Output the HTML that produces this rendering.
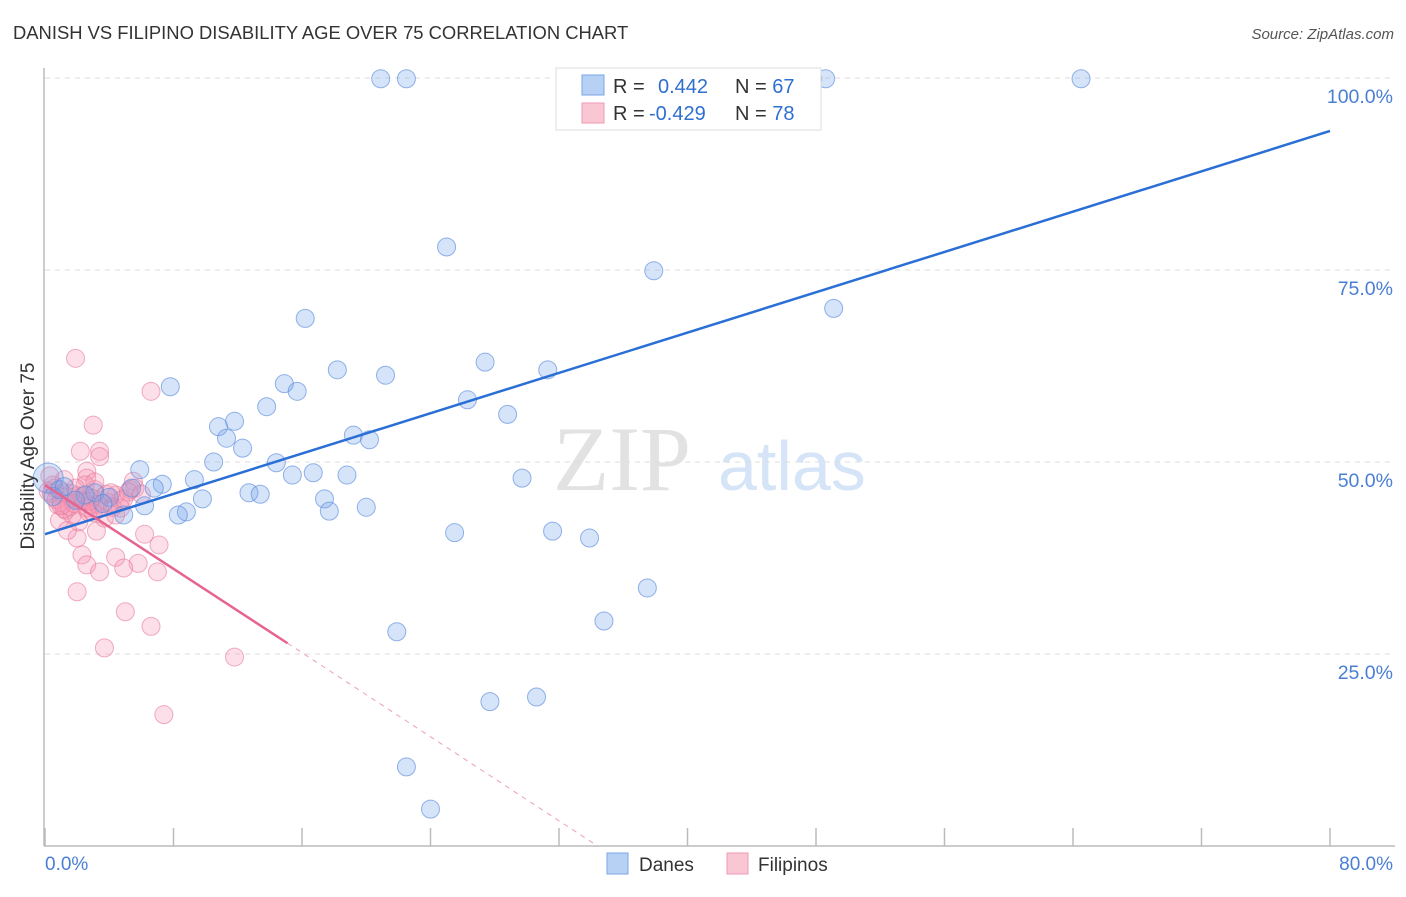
<!DOCTYPE html>
<html><head><meta charset="utf-8"><style>
body{margin:0;background:#fff;font-family:"Liberation Sans",sans-serif}
</style></head><body>
<svg id="chart" width="1406" height="892" xmlns="http://www.w3.org/2000/svg" font-family="Liberation Sans, sans-serif">
<text x="13" y="39" font-size="18.4" fill="#333">DANISH VS FILIPINO DISABILITY AGE OVER 75 CORRELATION CHART</text>
<text x="1394" y="39" font-size="15" fill="#555" text-anchor="end" font-style="italic">Source: ZipAtlas.com</text>
<text x="553" y="490" font-size="92" fill="#e2e2e2" font-family="Liberation Serif, serif">ZIP</text>
<text x="718" y="490" font-size="70" fill="#d6e4f7">atlas</text>
<g id="grid"></g>
<g id="axes"></g>
<g id="pts"></g>
<g id="lines"></g>
<text transform="translate(34,456) rotate(-90)" font-size="19" fill="#333" text-anchor="middle">Disability Age Over 75</text>
<text x="45" y="870" font-size="19" fill="#4a7fd4">0.0%</text>
<text x="1393" y="870" font-size="19" fill="#4a7fd4" text-anchor="end">80.0%</text>
<g>
<rect x="556" y="68" width="265" height="62" fill="#fff" stroke="#ddd"/>
<rect x="582" y="75" width="22" height="20" fill="#b7d1f5" stroke="#7aa6e6"/>
<rect x="582" y="103" width="22" height="20" fill="#f9c6d4" stroke="#ee9ab3"/>
<text x="613" y="93" font-size="20" fill="#333">R = <tspan fill="#2f6fd0" x="658">0.442</tspan><tspan x="735" fill="#333">N = </tspan><tspan fill="#2f6fd0">67</tspan></text>
<text x="613" y="120" font-size="20" fill="#333">R = <tspan fill="#2f6fd0" x="649">-0.429</tspan><tspan x="735" fill="#333">N = </tspan><tspan fill="#2f6fd0">78</tspan></text>
</g>
<g>
<rect x="607" y="853" width="21" height="21" fill="#b7d1f5" stroke="#7aa6e6"/>
<text x="639" y="871" font-size="19" fill="#333">Danes</text>
<rect x="727" y="853" width="21" height="21" fill="#f9c6d4" stroke="#ee9ab3"/>
<text x="758" y="871" font-size="19" fill="#333">Filipinos</text>
</g>
</svg>
<script>
const yTicks=[100,75,50,25];
const yTickLabels=["100.0%","75.0%","50.0%","25.0%"];
const xTicks=[0,10,20,30,40,50,60,70,80];
const danesX=[20.9,22.5,39.1,45.8,47.8,48.6,64.5,25.0,37.9,49.1,16.2,7.8,14.9,15.7,18.2,21.2,27.4,31.3,26.3,28.8,13.8,11.8,10.8,11.3,12.3,19.2,20.2,10.5,14.4,5.9,15.4,16.7,18.8,29.7,9.3,7.3,6.8,12.7,13.4,9.8,17.4,20.0,17.7,6.2,8.8,8.3,4.9,25.5,31.6,33.9,37.5,21.9,34.8,27.7,30.6,22.5,24.0,0.2,0.9,3.1,4.0,5.4,2.5,1.9,1.2,0.5,3.6];
const danesY=[99.9,99.9,99.9,99.9,99.9,99.9,99.9,78.0,74.9,70.0,68.7,59.8,60.2,59.2,62.0,61.3,63.0,62.0,58.1,56.2,57.2,55.3,54.6,53.1,51.8,53.5,52.9,50.0,49.9,49.0,48.3,48.6,48.3,47.9,47.7,47.1,46.6,46.0,45.8,45.2,45.2,44.1,43.6,44.3,43.5,43.1,43.1,40.8,41.0,40.1,33.6,27.9,29.3,18.8,19.4,10.3,4.8,47.9,46.4,46.0,45.4,46.6,45.7,45.0,46.8,45.5,44.6];
const filX=[1.9,6.6,3.0,2.2,3.4,3.4,2.6,2.6,5.5,3.2,2.0,6.2,7.1,2.3,4.4,2.6,5.8,3.4,4.9,7.0,2.0,5.0,6.6,3.7,11.8,7.4,0.3,0.6,1.1,1.6,2.2,2.8,0.8,1.3,1.7,2.7,3.4,4.0,4.7,5.3,4.4,2.5,3.1,1.9,1.2,0.9,3.7,4.4,2.1,1.4,3.1,4.7,3.4,5.6,0.4,0.7,1.0,1.5,2.0,2.4,2.9,3.3,3.8,4.2,4.9,5.2,0.5,1.2,1.8,2.3,2.6,3.0,0.2,1.6,2.8,4.1,6.0,1.0];
const filY=[63.5,59.2,54.8,51.4,51.4,50.7,48.8,47.9,47.5,41.0,40.1,40.6,39.2,37.9,37.6,36.6,36.8,35.7,36.2,35.7,33.1,30.5,28.6,25.8,24.6,17.1,48.2,46.6,46.0,45.4,45.0,44.4,44.4,43.7,43.1,43.5,45.0,44.7,45.0,46.4,45.7,47.0,46.4,46.6,47.7,42.4,42.7,43.1,42.2,41.1,47.4,44.0,44.0,46.6,45.9,45.1,44.8,44.2,45.6,44.9,45.3,44.5,45.8,44.1,45.2,46.1,47.0,43.9,44.6,45.5,44.0,43.4,46.2,45.9,44.9,46.0,45.8,44.3];
const blueLine=[[0,40.6],[80,93.1]];
const pinkSolid=[[0,47.0],[15.1,26.4]];
const pinkDash=[[15.1,26.4],[34.4,0]];
const X=v=>45+v/80*1285;
const Y=v=>846-v/100*768;
const NS="http://www.w3.org/2000/svg";
function mk(tag,attrs,parent){const e=document.createElementNS(NS,tag);for(const k in attrs)e.setAttribute(k,attrs[k]);document.getElementById(parent).appendChild(e);return e;}
yTicks.forEach((t,i)=>{
 const l=mk('line',{x1:45,x2:1395,y1:Y(t),y2:Y(t),stroke:'#ddd','stroke-dasharray':'5,5'},'grid');
 
 
 const tx=mk('text',{x:1393,y:Y(t)+25,'font-size':19.5,fill:'#4a7fd4','text-anchor':'end'},'grid');
 tx.textContent=yTickLabels[i];
 
 
});
const ax=mk('line',{x1:44,x2:44,y1:68,y2:846,stroke:'#bbb','stroke-width':1.5},'axes');


const bx=mk('line',{x1:44,x2:1395,y1:846,y2:846,stroke:'#bbb','stroke-width':1.5},'axes');


for(let v=0;v<=80;v+=8){
 const t=mk('line',{x1:X(v),x2:X(v),y1:828,y2:846,stroke:'#bbb','stroke-width':1.5},'axes');
 
 
}
filX.forEach((x,i)=>{
 const c=mk('circle',{cx:X(x),cy:Y(filY[i]),r:9,fill:'rgba(244,150,180,0.3)',stroke:'rgba(232,120,155,0.6)','stroke-width':1},'pts');
 
 
});
danesX.forEach((x,i)=>{
 const c=mk('circle',{cx:X(x),cy:Y(danesY[i]),r:i==57?15:9,fill:'rgba(120,165,235,0.3)',stroke:'rgba(90,140,220,0.65)','stroke-width':1},'pts');
 
 
});
function ln(p,col,dash,name,w){
 const l=mk('line',{x1:X(p[0][0]),y1:Y(p[0][1]),x2:X(p[1][0]),y2:Y(p[1][1]),stroke:col,'stroke-width':w},'lines');
 if(dash)l.setAttribute('stroke-dasharray',dash);
 
 
}
ln(blueLine,'#2a6fd6',null,'danes-trendline',2.5);
ln(pinkSolid,'#e6658f',null,'filipino-trendline',2.5);
ln(pinkDash,'#eaa0b8','5,5','filipino-trendline-extension',1);
</script>
</body></html>
